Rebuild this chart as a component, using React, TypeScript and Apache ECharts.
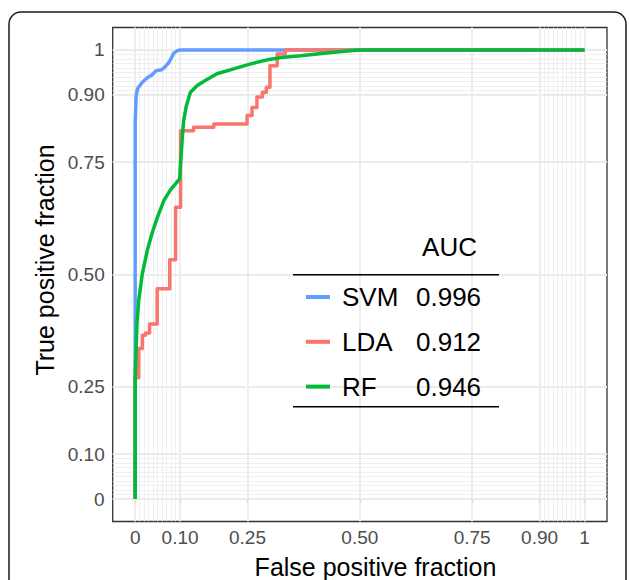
import React, { useEffect, useRef } from "react";
import * as echarts from "echarts";

// Axis breaks (major) and minor breaks
const majorBreaks = [0, 0.1, 0.25, 0.5, 0.75, 0.9, 1];
const minorBreaks = [0.01, 0.02, 0.03, 0.04, 0.05, 0.06, 0.07, 0.08, 0.09, 0.91, 0.92, 0.93, 0.94, 0.95, 0.96, 0.97, 0.98, 0.99];

// Legend / series info
const seriesNames = ["SVM", "LDA", "RF"];
const aucValues = ["0.996", "0.912", "0.946"];
const seriesColors = ["#619CFF", "#F8766D", "#00BA38"];

// ROC curves: [false positive fraction, true positive fraction]
const svmPoints = [
  [0, 0], [0, 0.835], [0.002, 0.896], [0.005, 0.913], [0.009, 0.919], [0.016, 0.928],
  [0.027, 0.938], [0.038, 0.945], [0.047, 0.954], [0.059, 0.956], [0.067, 0.963],
  [0.075, 0.972], [0.081, 0.983], [0.086, 0.993], [0.093, 0.998], [0.1, 1], [1, 1],
];
const ldaPoints = [
  [0, 0], [0, 0.27], [0.008, 0.27], [0.008, 0.335], [0.016, 0.335], [0.016, 0.365],
  [0.023, 0.365], [0.023, 0.37], [0.032, 0.37], [0.032, 0.39], [0.049, 0.39],
  [0.049, 0.468], [0.077, 0.468], [0.077, 0.533], [0.09, 0.533], [0.09, 0.65],
  [0.101, 0.65], [0.101, 0.82], [0.13, 0.82], [0.13, 0.828], [0.175, 0.828],
  [0.175, 0.835], [0.249, 0.835], [0.249, 0.854], [0.26, 0.854], [0.26, 0.872],
  [0.271, 0.872], [0.271, 0.895], [0.283, 0.895], [0.283, 0.906], [0.292, 0.906],
  [0.292, 0.917], [0.3, 0.917], [0.3, 0.965], [0.316, 0.965], [0.316, 0.991],
  [0.334, 0.991], [0.334, 1], [1, 1],
];
const rfPoints = [
  [0, 0], [0, 0.27], [0.002, 0.331], [0.004, 0.391], [0.008, 0.443], [0.016, 0.502],
  [0.027, 0.554], [0.038, 0.593], [0.049, 0.626], [0.064, 0.665], [0.079, 0.689],
  [0.099, 0.713], [0.101, 0.747], [0.105, 0.806], [0.108, 0.843], [0.114, 0.876],
  [0.123, 0.906], [0.138, 0.921], [0.156, 0.932], [0.182, 0.947], [0.219, 0.958],
  [0.257, 0.969], [0.294, 0.978], [0.331, 0.984], [0.368, 0.987], [0.405, 0.991],
  [0.442, 0.995], [0.479, 0.998], [0.5, 1], [1, 1],
];
const diagonal = [[0, 0], [1, 1]];

const xTitle = "False positive fraction";
const yTitle = "True positive fraction";
const legendTitle = "AUC";

const FONT = "'Liberation Sans', Arial, Helvetica, sans-serif";

function fmt(v: number) {
  if (v === 0) return "0";
  if (v === 1) return "1";
  return v.toFixed(2);
}

export default function App() {
  const ref = useRef<HTMLDivElement>(null);
  useEffect(() => {
    if (!ref.current) return;
    const chart = echarts.init(ref.current, undefined, { renderer: "svg" });

    const gridLineSeries = (vals: number[], width: number, name: string) => ({
      type: "line",
      name,
      data: [],
      z: 1,
      silent: true,
      markLine: {
        silent: true,
        z: 1,
        symbol: ["none", "none"],
        label: { show: false },
        lineStyle: { color: "#EBEBEB", width, type: "solid" },
        emphasis: { disabled: true },
        data: [
          ...vals.map((v) => ({ xAxis: v })),
          ...vals.map((v) => ({ yAxis: v })),
        ],
      },
    });

    const curves = [svmPoints, ldaPoints, rfPoints];

    const legendGraphics: any[] = [];
    const lx0 = 293, lx1 = 499;
    legendGraphics.push({
      type: "text",
      x: 449.5,
      y: 247,
      z: 100,
      style: { text: legendTitle, font: `26px ${FONT}`, fill: "#000", align: "center", verticalAlign: "middle" },
    });
    legendGraphics.push({ type: "line", z: 100, shape: { x1: lx0, y1: 274.7, x2: lx1, y2: 274.7 }, style: { stroke: "#000", lineWidth: 1.5 } });
    legendGraphics.push({ type: "line", z: 100, shape: { x1: lx0, y1: 406.7, x2: lx1, y2: 406.7 }, style: { stroke: "#000", lineWidth: 1.5 } });
    seriesNames.forEach((n, i) => {
      const cy = 297 + i * 44.8;
      legendGraphics.push({ type: "line", z: 100, shape: { x1: 306, y1: cy, x2: 330, y2: cy }, style: { stroke: seriesColors[i], lineWidth: 4 } });
      legendGraphics.push({ type: "text", z: 100, x: 342, y: cy, style: { text: n, font: `26px ${FONT}`, fill: "#000", align: "left", verticalAlign: "middle" } });
      legendGraphics.push({ type: "text", z: 100, x: 416, y: cy, style: { text: aucValues[i], font: `26px ${FONT}`, fill: "#000", align: "left", verticalAlign: "middle" } });
    });

    chart.setOption({
      animation: false,
      backgroundColor: "#fff",
      grid: {
        left: 112.7,
        top: 27.5,
        width: 494.3,
        height: 494,
        show: true,
        borderColor: "#333333",
        borderWidth: 1.3,
        backgroundColor: "#fff",
      },
      xAxis: {
        type: "value",
        min: -0.05,
        max: 1.05,
        axisLine: { show: false },
        splitLine: { show: false },
        axisTick: { show: true, length: 4, customValues: majorBreaks, lineStyle: { color: "#333333", width: 1.1 } },
        axisLabel: {
          customValues: majorBreaks,
          formatter: (v: number) => fmt(v),
          color: "#4D4D4D",
          fontSize: 19,
          fontFamily: FONT,
          margin: 6,
        },
      },
      yAxis: {
        type: "value",
        min: -0.05,
        max: 1.05,
        axisLine: { show: false },
        splitLine: { show: false },
        axisTick: { show: true, length: 4, customValues: majorBreaks, lineStyle: { color: "#333333", width: 1.1 } },
        axisLabel: {
          customValues: majorBreaks,
          formatter: (v: number) => fmt(v),
          color: "#4D4D4D",
          fontSize: 19,
          fontFamily: FONT,
          margin: 8,
        },
      },
      series: [
        gridLineSeries(minorBreaks, 0.8, "minor"),
        gridLineSeries(majorBreaks, 1.8, "major"),
        {
          type: "line",
          name: "diag",
          data: diagonal,
          z: 2,
          silent: true,
          showSymbol: false,
          lineStyle: { color: "#ffffff", width: 1 },
        },
        ...curves.map((pts, i) => ({
          type: "line",
          name: seriesNames[i],
          data: pts,
          z: 3 + i,
          showSymbol: false,
          symbol: "none",
          lineStyle: { color: seriesColors[i], width: 3.5, join: "round" },
          emphasis: { disabled: true },
        })),
      ],
      graphic: [
        {
          type: "rect",
          shape: { x: 9, y: 12, width: 617, height: 620, r: 12 },
          style: { fill: "none", stroke: "#1a1a1a", lineWidth: 1.5 },
          z: 100,
          silent: true,
        },
        {
          type: "text",
          x: 45,
          y: 260,
          z: 100,
          rotation: Math.PI / 2,
          style: { text: yTitle, font: `25px ${FONT}`, fill: "#000", align: "center", verticalAlign: "middle" },
        },
        {
          type: "text",
          x: 375.5,
          y: 567,
          z: 100,
          style: { text: xTitle, font: `25px ${FONT}`, fill: "#000", align: "center", verticalAlign: "middle" },
        },
        ...legendGraphics,
      ],
    });
    return () => chart.dispose();
  }, []);
  return (
    <div
      ref={ref}
      style={{ position: "fixed", left: 0, top: 0, width: 629, height: 580, background: "#fff" }}
    />
  );
}
